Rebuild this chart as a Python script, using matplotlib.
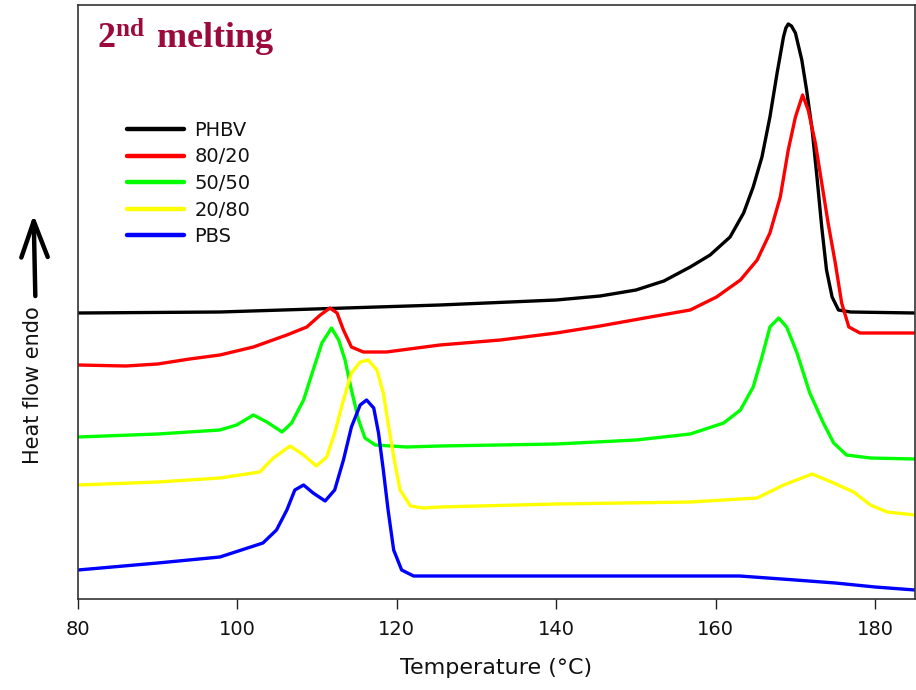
import matplotlib
matplotlib.use("Agg")
import matplotlib.pyplot as plt

# ---------------- data (heat flow in arbitrary units) ----------------
T_phbv = [80, 97.8, 125.4, 140, 145.5, 150, 153.5, 156.8, 159.3, 161.8, 163.5, 164.7,
          165.8, 166.8, 167.7, 168.5, 168.8, 169.1, 169.5, 170.0, 170.8, 171.4, 172.1,
          172.7, 173.3, 173.9, 174.6, 175.4, 176.9, 185]
hf_phbv = [286, 287, 294, 299, 303, 309, 318, 332, 344, 362, 386, 412,
           442, 482, 526, 562, 571, 575, 573, 566, 539, 509, 469,
           422, 372, 329, 302, 289, 287, 286]

T_8020 = [80, 86, 90, 94, 97.8, 102.0, 106.2, 108.7, 110.4, 111.6, 112.5, 113.3,
          114.3, 115.8, 118.7, 125.4, 133, 140, 145.5, 151.8, 156.8, 160.1, 163.1,
          165.2, 166.8, 168.1, 169.1, 170.0, 170.9, 171.6, 172.5, 173.3, 174.1, 175.0,
          175.8, 176.7, 178.1, 185]
hf_8020 = [234, 233, 235, 240, 244, 252, 264, 272, 284, 291, 286, 269,
           252, 247, 247, 254, 259, 266, 273, 282, 289, 302, 319,
           339, 366, 402, 449, 482, 504, 489, 456, 416, 376, 336,
           296, 272, 266, 266]

T_5050 = [80, 90, 97.8, 99.9, 102.0, 103.7, 105.6, 106.8, 108.3, 109.5, 110.6, 111.8,
          112.7, 113.5, 114.3, 115.2, 116.0, 117.3, 121.2, 125.4, 140, 150, 156.8,
          161.0, 163.1, 164.7, 165.8, 166.8, 167.9, 168.9, 170.2, 171.8, 173.5, 174.8,
          176.4, 179.4, 185]
hf_5050 = [162, 165, 169, 174, 184, 177, 167, 176, 199, 229, 256, 271,
           259, 239, 209, 179, 161, 154, 152, 153, 155, 159, 165,
           176, 189, 212, 242, 272, 281, 272, 246, 206, 176, 156,
           144, 141, 140]

T_2080 = [80, 90, 97.8, 102.8, 104.5, 106.6, 108.3, 109.9, 111.2, 112.2, 113.3, 114.3,
          115.4, 116.4, 117.5, 118.3, 118.9, 119.6, 120.4, 121.7, 123.3, 125.4, 140,
          156.8, 165.2, 168.5, 172.1, 174.8, 177.3, 179.4, 181.5, 185]
hf_2080 = [114, 117, 121, 127, 141, 153, 144, 133, 142, 166, 199, 226,
           237, 239, 229, 206, 176, 142, 109, 93, 91, 92, 95,
           97, 101, 114, 125, 116, 107, 94, 87, 84]

T_pbs = [80, 90, 97.8, 103.2, 104.9, 106.2, 107.2, 108.3, 109.5, 111.0, 112.2, 113.3,
         114.3, 115.4, 116.2, 117.1, 117.7, 118.3, 118.9, 119.6, 120.6, 122.1, 125.4,
         140, 163, 170, 175, 180, 185]
hf_pbs = [29, 36, 42, 56, 69, 89, 109, 114, 106, 98, 109, 139,
          172, 194, 199, 191, 166, 129, 89, 49, 29, 23, 23,
          23, 23, 19, 16, 12, 9]

labels = ["PHBV", "80/20", "50/50", "20/80", "PBS"]
colors = ["#000000", "#FF0000", "#00FF00", "#FFFF00", "#0000FF"]
xticks = [80, 100, 120, 140, 160, 180]

# ---------------- figure ----------------
plt.rcParams['font.family'] = ['DejaVu Sans']
plt.rcParams['mathtext.fontset'] = 'custom'
plt.rcParams['mathtext.rm'] = 'Liberation Serif'
plt.rcParams['mathtext.bf'] = 'Liberation Serif:bold'

fig = plt.figure(figsize=(9.16, 6.90), dpi=100)
ax = fig.add_axes([78 / 916, 91 / 690, 837 / 916, 594 / 690])

series = [(T_phbv, hf_phbv), (T_8020, hf_8020), (T_5050, hf_5050),
          (T_2080, hf_2080), (T_pbs, hf_pbs)]
for (t, h), lab, c in zip(series, labels, colors):
    ax.plot(t, h, color=c, lw=2.4, label=lab, solid_joinstyle='round',
            solid_capstyle='round')

ax.set_xlim(80, 185)
ax.set_ylim(0, 594)
ax.set_xticks(xticks)
ax.set_yticks([])
ax.tick_params(axis='x', direction='out', length=7, width=1, labelsize=14, pad=8,
               colors='#222222', labelcolor='#111111')
for s in ax.spines.values():
    s.set_color('#333333')
    s.set_linewidth(1.2)

ax.set_xlabel("Temperature (°C)", fontsize=16, labelpad=14, color='#111111')

# y label and arrow
ax.text(-0.054, 0.36, "Heat flow endo", rotation=90, fontsize=15,
        ha='center', va='center', transform=ax.transAxes, color='#111111')
ax.annotate("", xy=(-0.053, 0.647), xytext=(-0.051, 0.51),
            xycoords='axes fraction', textcoords='axes fraction',
            arrowprops=dict(arrowstyle="->,head_length=26,head_width=9.5",
                            mutation_scale=1, lw=3.2, color='black',
                            shrinkA=0, shrinkB=0),
            annotation_clip=False)

# title
ax.text(0.0225, 0.927, r'$\mathbf{2^{nd}\ melting}$', fontsize=26,
        color='#9C0A3C', transform=ax.transAxes, ha='left', va='baseline')

leg = ax.legend(loc='upper left', bbox_to_anchor=(0.059, 0.805), frameon=False,
                fontsize=14, handlelength=2.9, handletextpad=0.55,
                labelspacing=0.39, borderpad=0, borderaxespad=0)
for line in leg.get_lines():
    line.set_linewidth(3.2)
for txt in leg.get_texts():
    txt.set_color('#111111')

fig.savefig("out.png", dpi=100)
